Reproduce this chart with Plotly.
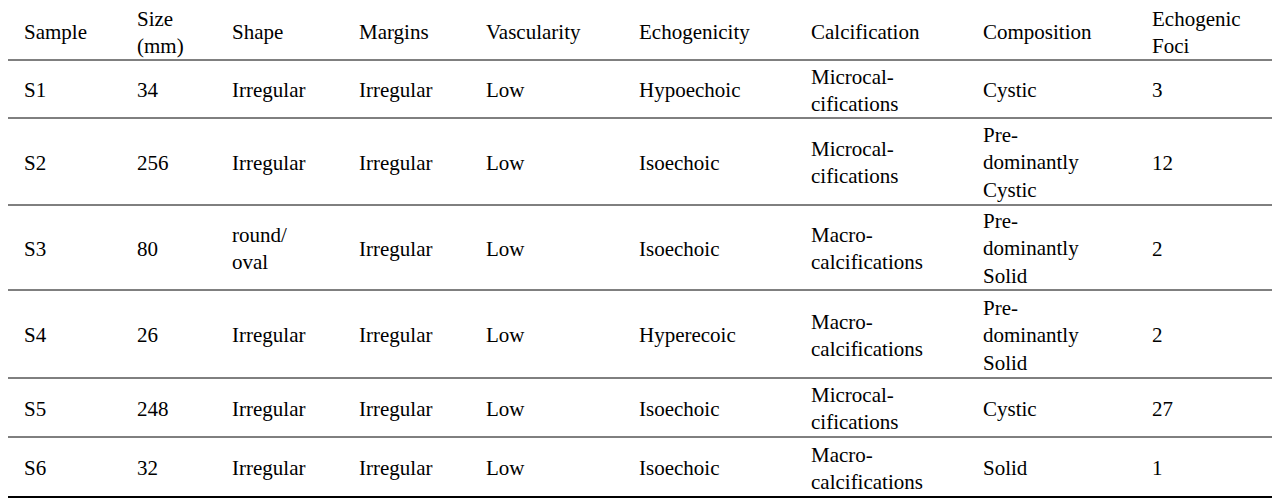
import plotly.graph_objects as go

headers = ["Sample", "Size<br>(mm)", "Shape", "Margins", "Vascularity", "Echogenicity", "Calcification", "Composition", "Echogenic<br>Foci"]
samples = ["S1", "S2", "S3", "S4", "S5", "S6"]
sizes = ["34", "256", "80", "26", "248", "32"]
shapes_ = ["Irregular", "Irregular", "round/<br>oval", "Irregular", "Irregular", "Irregular"]
margins_ = ["Irregular"] * 6
vascularity = ["Low"] * 6
echogenicity = ["Hypoechoic", "Isoechoic", "Isoechoic", "Hyperecoic", "Isoechoic", "Isoechoic"]
calcification = ["Microcal-<br>cifications", "Microcal-<br>cifications", "Macro-<br>calcifications",
                 "Macro-<br>calcifications", "Microcal-<br>cifications", "Macro-<br>calcifications"]
composition = ["Cystic", "Pre-<br>dominantly<br>Cystic", "Pre-<br>dominantly<br>Solid",
               "Pre-<br>dominantly<br>Solid", "Cystic", "Solid"]
foci = ["3", "12", "2", "2", "27", "1"]

columns = [samples, sizes, shapes_, margins_, vascularity, echogenicity, calcification, composition, foci]
col_x = [22, 135, 230, 357, 484, 637, 809, 981, 1150]
row_lines = [2, 60, 118, 205, 290, 378, 437, 497]
OFF = 8  # page body margin compensation

fig = go.Figure()
fig.add_trace(go.Scatter(x=[0], y=[0], mode="markers", marker=dict(opacity=0), hoverinfo="skip"))
font = dict(family="Liberation Serif", size=21, color="black")
ann = []
for j, h in enumerate(headers):
    ann.append(dict(x=col_x[j] - OFF, y=(row_lines[0] + row_lines[1]) / 2 + 1 - OFF, text=h, showarrow=False,
                    xanchor="left", yanchor="middle", align="left", font=font))
for i in range(len(samples)):
    yc = (row_lines[i + 1] + row_lines[i + 2]) / 2 + 1 - OFF
    for j, col in enumerate(columns):
        ann.append(dict(x=col_x[j] - OFF, y=yc, text=col[i], showarrow=False,
                        xanchor="left", yanchor="middle", align="left", font=font))
shp = []
for k, y in enumerate(row_lines):
    shp.append(dict(type="line", x0=5 - OFF, x1=1278 - OFF, y0=y - OFF, y1=y - OFF,
                    line=dict(color="black", width=2 if k in (0, len(row_lines) - 1) else 1)))
fig.update_layout(width=1280, height=502, margin=dict(l=0, r=0, t=0, b=0),
                  paper_bgcolor="white", plot_bgcolor="white", showlegend=False,
                  xaxis=dict(range=[0, 1280], visible=False, fixedrange=True),
                  yaxis=dict(range=[502, 0], visible=False, fixedrange=True),
                  annotations=ann, shapes=shp)
fig.write_html("out.html")
